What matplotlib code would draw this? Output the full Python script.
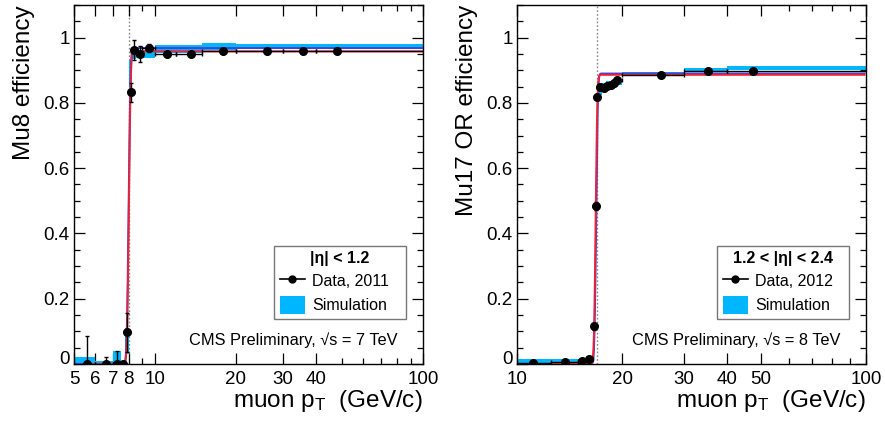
import math
import numpy as np
import matplotlib
matplotlib.use("Agg")
import matplotlib.pyplot as plt
from matplotlib.lines import Line2D
from matplotlib.patches import Patch
from matplotlib.ticker import FixedLocator, NullFormatter, MultipleLocator
from matplotlib.transforms import ScaledTranslation

plt.rcParams['font.family'] = ['Liberation Sans', 'DejaVu Sans']
plt.rcParams['mathtext.default'] = 'regular'

# ---------------- data: left panel (Mu8, |eta|<1.2, 2011) ----------------
left_x = [5.6, 6.56, 7.25, 7.6, 7.86, 8.13, 8.37, 8.81, 9.55, 11.1, 13.7, 18.0, 26.3, 35.8, 47.7]
left_y = [0.0, 0.0, 0.0, 0.0, 0.097, 0.832, 0.963, 0.949, 0.968, 0.951, 0.951, 0.958, 0.958, 0.958, 0.958]
left_yerr_lo = [0.0, 0.0, 0.0, 0.0, 0.06, 0.03, 0.03, 0.025, 0.012, 0.006, 0.006, 0.005, 0.005, 0.005, 0.005]
left_yerr_hi = [0.085, 0.02, 0.04, 0.01, 0.06, 0.03, 0.03, 0.025, 0.012, 0.006, 0.006, 0.005, 0.005, 0.005, 0.005]
left_bin_lo = [5, 6, 7, 7.5, 7.75, 8, 8.25, 8.5, 9, 10, 12, 15, 20, 30, 40]
left_bin_hi = [6, 7, 7.5, 7.75, 8, 8.25, 8.5, 9, 10, 12, 15, 20, 30, 40, 100]

left_sim_edges = [5, 6, 7, 7.5, 7.75, 8, 8.25, 8.5, 10, 15, 20, 100]
left_sim_val = [0.01, 0.005, 0.02, 0.005, 0.07, 0.89, 0.95, 0.951, 0.966, 0.973, 0.975]
left_sim_err = [0.012, 0.005, 0.02, 0.005, 0.04, 0.04, 0.015, 0.012, 0.012, 0.01, 0.007]

left_fit_data = dict(plateau=0.958, mu=8.01, sigma=0.10, lo=5.45, hi=100)
left_fit_sim = dict(plateau=0.968, mu=7.99, sigma=0.10, lo=5.0, hi=100)
left_threshold = 8

# ---------------- data: right panel (Mu17 OR, 1.2<|eta|<2.4, 2012) ----------------
right_x = [11.1, 13.7, 15.4, 16.1, 16.6, 16.84, 17.0, 17.3, 17.7, 18.1, 18.6, 19.0, 19.4, 25.8, 35.3, 47.5]
right_y = [0.002, 0.005, 0.01, 0.015, 0.115, 0.483, 0.818, 0.849, 0.846, 0.853, 0.856, 0.861, 0.869, 0.886, 0.897, 0.899]
right_yerr = [0.003, 0.004, 0.005, 0.006, 0.01, 0.012, 0.01, 0.008, 0.008, 0.008, 0.008, 0.008, 0.008, 0.004, 0.004, 0.004]
right_bin_lo = [10, 12.5, 15, 16, 16.5, 16.75, 16.9, 17.1, 17.5, 18, 18.5, 18.8, 19.2, 20, 30, 40]
right_bin_hi = [12.5, 15, 16, 16.5, 16.75, 16.9, 17.1, 17.5, 18, 18.5, 18.8, 19.2, 20, 30, 40, 100]

right_sim_edges = [10, 16, 16.5, 16.75, 17, 17.5, 18, 19, 20, 30, 40, 100]
right_sim_val = [0.009, 0.012, 0.06, 0.5, 0.835, 0.85, 0.86, 0.862, 0.891, 0.90, 0.908]
right_sim_err = [0.005, 0.006, 0.02, 0.05, 0.01, 0.01, 0.008, 0.008, 0.005, 0.006, 0.006]

right_fit_data = dict(plateau=0.886, mu=16.80, sigma=0.15, lo=10.3, hi=99)
right_fit_sim = dict(plateau=0.890, mu=16.86, sigma=0.15, lo=10.3, hi=99)
right_threshold = 17

SIM_COLOR = '#00b6ff'
DATA_FIT_COLOR = '#e8233a'
SIM_FIT_COLOR = '#4a3fcf'

_erf = np.vectorize(math.erf)


def turn_on(x, plateau, mu, sigma):
    return plateau * 0.5 * (1.0 + _erf((x - mu) / (sigma * math.sqrt(2.0))))


def draw_panel(fig, ax, xd, yd, ylo, yhi, blo, bhi, sedges, sval, serr, fit_d, fit_s,
               thr, xlim, major, minor, ylabel, header, data_label, energy):
    # simulation band
    sedges = np.asarray(sedges, float)
    sval = np.asarray(sval)
    serr = np.asarray(serr)
    ax.bar(sedges[:-1], 2 * serr, width=np.diff(sedges), bottom=sval - serr,
           align='edge', color=SIM_COLOR, linewidth=0, zorder=2)
    # threshold line
    ax.axvline(thr, color='#888888', linestyle=(0, (1.2, 1.5)), linewidth=1.0, zorder=1)
    # fits
    for fit, col in ((fit_s, SIM_FIT_COLOR), (fit_d, DATA_FIT_COLOR)):
        xx = np.geomspace(fit['lo'], fit['hi'], 3000)
        ax.plot(xx, turn_on(xx, fit['plateau'], fit['mu'], fit['sigma']),
                color=col, linewidth=1.4, zorder=3)
    # data
    xd = np.asarray(xd)
    xerr = [xd - np.asarray(blo), np.asarray(bhi) - xd]
    ax.errorbar(xd, yd, yerr=[ylo, yhi], xerr=xerr, fmt='o', color='black',
                markersize=5.5, elinewidth=1.0, capsize=1.5, zorder=4)

    ax.set_xscale('log')
    ax.set_xlim(*xlim)
    ax.set_ylim(0, 1.1)
    ax.xaxis.set_major_locator(FixedLocator(major))
    ax.set_xticklabels([str(m) for m in major])
    ax.xaxis.set_minor_locator(FixedLocator(minor))
    ax.xaxis.set_minor_formatter(NullFormatter())
    ax.yaxis.set_minor_locator(MultipleLocator(0.05))
    ax.set_yticks([0, 0.2, 0.4, 0.6, 0.8, 1.0])
    ax.set_yticklabels(['0', '0.2', '0.4', '0.6', '0.8', '1'])
    ax.tick_params(which='both', direction='in', top=True, right=True,
                   labelsize=13.5, width=0.9, colors='black')
    ax.tick_params(which='major', length=8)
    ax.tick_params(which='minor', length=4)
    ax.tick_params(axis='x', pad=5)
    ax.tick_params(axis='y', pad=3)
    for s in ax.spines.values():
        s.set_linewidth(1.0)
    # ROOT-style: the "0" label of the y axis sits slightly above the corner
    zero_lab = ax.yaxis.get_major_ticks()[0].label1
    zero_lab.set_transform(zero_lab.get_transform()
                           + ScaledTranslation(0, 0.065, fig.dpi_scale_trans))

    ax.set_ylabel(ylabel, fontsize=17.5, loc='top', labelpad=6)
    ax.set_xlabel(r'muon p$_{\mathregular{T}}$  (GeV/c)', fontsize=17.5, loc='right', labelpad=0)

    handles = [Line2D([0], [0], color='black', marker='o', markersize=5, linewidth=1.2),
               Patch(facecolor=SIM_COLOR, edgecolor='none')]
    leg = ax.legend(handles, [data_label, 'Simulation'], title=header,
                    loc='upper left', bbox_to_anchor=(0.573, 0.111, 0.378, 0.218),
                    mode='expand', fontsize=11.5,
                    title_fontproperties={'weight': 'bold', 'size': 11.5},
                    frameon=True, fancybox=False, edgecolor='#777777', framealpha=1,
                    handlelength=1.6, handleheight=1.35, handletextpad=0.45,
                    borderpad=0.35, labelspacing=0.35, borderaxespad=0)
    leg.get_frame().set_linewidth(1.0)
    ax.text(0.627, 0.066, energy, transform=ax.transAxes, fontsize=11.8,
            ha='center', va='center')


fig = plt.figure(figsize=(8.85, 4.21), dpi=100)
ax1 = fig.add_axes([74 / 885, 57 / 421, 349 / 885, 359 / 421])
ax2 = fig.add_axes([517 / 885, 57 / 421, 349 / 885, 359 / 421])

draw_panel(fig, ax1, left_x, left_y, left_yerr_lo, left_yerr_hi, left_bin_lo, left_bin_hi,
           left_sim_edges, left_sim_val, left_sim_err, left_fit_data, left_fit_sim,
           left_threshold, (5, 100), [5, 6, 7, 8, 10, 20, 30, 40, 100],
           [9, 50, 60, 70, 80, 90], 'Mu8 efficiency', '|η| < 1.2', 'Data, 2011',
           'CMS Preliminary, √s = 7 TeV')
draw_panel(fig, ax2, right_x, right_y, right_yerr, right_yerr, right_bin_lo, right_bin_hi,
           right_sim_edges, right_sim_val, right_sim_err, right_fit_data, right_fit_sim,
           right_threshold, (10, 100), [10, 20, 30, 40, 50, 100],
           [60, 70, 80, 90], 'Mu17 OR efficiency', '1.2 < |η| < 2.4', 'Data, 2012',
           'CMS Preliminary, √s = 8 TeV')

fig.savefig('out.png', dpi=100)
